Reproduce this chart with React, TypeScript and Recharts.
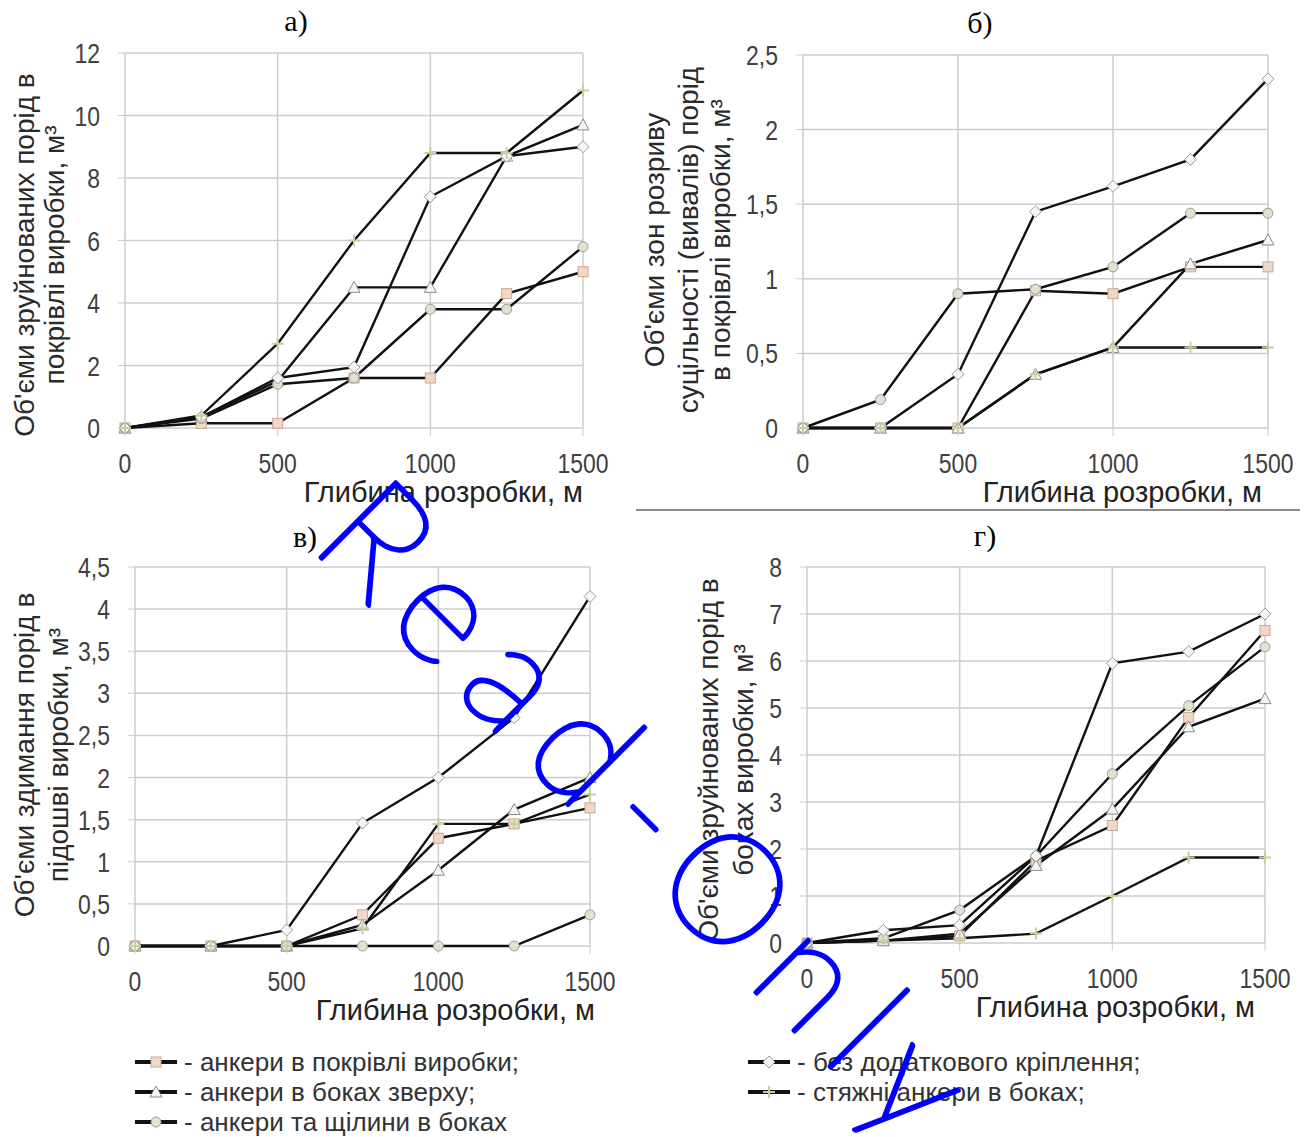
import React from 'react';
import { LineChart, Line, XAxis, YAxis, CartesianGrid } from 'recharts';

// глибина розробки, м
const depth = [0, 250, 500, 750, 1000, 1250, 1500];

// а) об'єми зруйнованих порід в покрівлі
const roofA = [0, 0.15, 0.15, 1.6, 1.6, 4.3, 5.0];
const sideTopA = [0, 0.35, 1.5, 4.5, 4.5, 8.7, 9.7];
const slotsA = [0, 0.3, 1.4, 1.6, 3.8, 3.8, 5.8];
const bareA = [0, 0.35, 1.6, 1.95, 7.4, 8.7, 9.0];
const tieA = [0, 0.4, 2.7, 6.0, 8.8, 8.8, 10.8];

// б) зони розриву суцільності (вивали)
const roofB = [0, 0, 0, 0.92, 0.9, 1.08, 1.08];
const sideTopB = [0, 0, 0, 0.36, 0.54, 1.1, 1.26];
const slotsB = [0, 0.19, 0.9, 0.93, 1.08, 1.44, 1.44];
const bareB = [0, 0, 0.36, 1.45, 1.62, 1.8, 2.34];
const tieB = [0, 0, 0, 0.36, 0.54, 0.54, 0.54];

// в) здимання порід в підошві
const roofC = [0, 0, 0, 0.37, 1.28, 1.45, 1.64];
const sideTopC = [0, 0, 0, 0.25, 0.9, 1.62, 2.0];
const slotsC = [0, 0, 0, 0, 0, 0, 0.37];
const bareC = [0, 0, 0.19, 1.46, 2.0, 2.71, 4.15];
const tieC = [0, 0, 0, 0.21, 1.45, 1.45, 1.8];

// г) зруйновані породи в боках
const roofD = [0, 0.05, 0.15, 1.75, 2.5, 4.8, 6.65];
const sideTopD = [0, 0.05, 0.2, 1.65, 2.85, 4.6, 5.2];
const slotsD = [0, 0.1, 0.7, 1.85, 3.6, 5.05, 6.3];
const bareD = [0, 0.27, 0.38, 1.85, 5.95, 6.2, 7.0];
const tieD = [0, 0.05, 0.1, 0.2, 1.0, 1.82, 1.82];

const xTicks = [0, 500, 1000, 1500];
const yTicksA = [0, 2, 4, 6, 8, 10, 12];
const yTicksB = [0, 0.5, 1, 1.5, 2, 2.5];
const yTicksC = [0, 0.5, 1, 1.5, 2, 2.5, 3, 3.5, 4, 4.5];
const yTicksD = [0, 1, 2, 3, 4, 5, 6, 7, 8];

const xTitle = 'Глибина розробки, м';
const yTitleA = ["Об'єми зруйнованих порід в", 'покрівлі виробки, м³'];
const yTitleB = ["Об'єми зон розриву", 'суцільності (вивалів) порід', 'в покрівлі виробки, м³'];
const yTitleC = ["Об'єми здимання порід в", 'підошві виробки, м³'];
const yTitleD = ["Об'єми зруйнованих порід в", 'боках виробки, м³'];

const legendNames = [
  '- анкери в покрівлі виробки;',
  '- анкери в боках зверху;',
  '- анкери та щілини в боках',
  '- без додаткового кріплення;',
  '- стяжні анкери в боках;',
];

const FONT = '"Liberation Sans", Arial, sans-serif';

const series = [
  { key: 'roof', shape: 'square' },
  { key: 'sideTop', shape: 'triangle' },
  { key: 'slots', shape: 'circle' },
  { key: 'bare', shape: 'diamond' },
  { key: 'tie', shape: 'plus' },
];

const makeRows = (roof, sideTop, slots, bare, tie) =>
  depth.map((d, i) => ({ depth: d, roof: roof[i], sideTop: sideTop[i], slots: slots[i], bare: bare[i], tie: tie[i] }));

const panels = [
  { id: 'a', rows: makeRows(roofA, sideTopA, slotsA, bareA, tieA), yMax: 12, yTicks: yTicksA,
    left: 125, top: 53, right: 583, bottom: 428,
    letter: 'а)', letterX: 296, letterY: 31,
    yTitle: yTitleA, yTitleX: [34, 64], yTitleY: 255, xTitleRight: 583 },
  { id: 'b', rows: makeRows(roofB, sideTopB, slotsB, bareB, tieB), yMax: 2.5, yTicks: yTicksB,
    left: 803, top: 55, right: 1268, bottom: 428,
    letter: 'б)', letterX: 980, letterY: 33,
    yTitle: yTitleB, yTitleX: [664, 698, 730], yTitleY: 240, xTitleRight: 1262 },
  { id: 'c', rows: makeRows(roofC, sideTopC, slotsC, bareC, tieC), yMax: 4.5, yTicks: yTicksC,
    left: 135, top: 567, right: 590, bottom: 946,
    letter: 'в)', letterX: 305, letterY: 547,
    yTitle: yTitleC, yTitleX: [34, 68], yTitleY: 755, xTitleRight: 595 },
  { id: 'd', rows: makeRows(roofD, sideTopD, slotsD, bareD, tieD), yMax: 8, yTicks: yTicksD,
    left: 807, top: 567, right: 1265, bottom: 943,
    letter: 'г)', letterX: 985, letterY: 546,
    yTitle: yTitleD, yTitleX: [718, 753], yTitleY: 760, xTitleRight: 1255 },
];

function Marker({ cx, cy, shape }) {
  if (cx == null || cy == null) return null;
  if (shape === 'square')
    return <rect x={cx - 5} y={cy - 5} width={10} height={10} fill="#f1d8c6" stroke="#c9a892" strokeWidth={1} />;
  if (shape === 'triangle')
    return <polygon points={`${cx},${cy - 6} ${cx + 6},${cy + 5} ${cx - 6},${cy + 5}`} fill="#f4f4f0" stroke="#8c8c8c" strokeWidth={1} />;
  if (shape === 'circle')
    return <circle cx={cx} cy={cy} r={5} fill="#e1e1cf" stroke="#9c9c92" strokeWidth={1} />;
  if (shape === 'diamond')
    return <polygon points={`${cx},${cy - 6} ${cx + 6},${cy} ${cx},${cy + 6} ${cx - 6},${cy}`} fill="#f5f5f5" stroke="#9c9c9c" strokeWidth={1} />;
  return <path d={`M${cx - 6},${cy}H${cx + 6}M${cx},${cy - 6}V${cy + 6}`} stroke="#c8cf9c" strokeWidth={2} />;
}

const fmt = (v: number) => String(v).replace('.', ',');

function YTick(props) {
  const { x, y, payload } = props;
  return (
    <g transform={`translate(${x},${y})`}>
      <text transform="scale(0.82,1)" textAnchor="end" dy={10} fontSize={28} fontFamily={FONT} fill="#404040">
        {fmt(payload.value)}
      </text>
    </g>
  );
}

function XTick(props) {
  const { x, y, payload } = props;
  return (
    <g transform={`translate(${x},${y})`}>
      <text transform="scale(0.82,1)" textAnchor="middle" dy={35} fontSize={28} fontFamily={FONT} fill="#404040">
        {payload.value}
      </text>
    </g>
  );
}

function Panel({ p }) {
  const yw = 60, mt = 24, mr = 40, xh = 60;
  const w = p.right - p.left;
  const h = p.bottom - p.top;
  return (
    <div style={{ position: 'absolute', left: p.left - yw, top: p.top - mt }}>
      <LineChart width={yw + w + mr} height={mt + h + xh} data={p.rows} margin={{ top: mt, right: mr, bottom: 0, left: 0 }}>
        <CartesianGrid stroke="#cdcdcd" strokeWidth={1.5} />
        <XAxis dataKey="depth" type="number" domain={[0, 1500]} ticks={xTicks} interval={0} height={xh}
          axisLine={false} tickLine={{ stroke: '#cdcdcd' }} tickSize={8} tickMargin={2}
          tick={(t) => <XTick x={t.x} y={t.y} payload={t.payload} />} />
        <YAxis type="number" domain={[0, p.yMax]} ticks={p.yTicks} interval={0} width={yw}
          axisLine={false} tickLine={{ stroke: '#cdcdcd' }} tickSize={7} tickMargin={18}
          tick={(t) => <YTick x={t.x} y={t.y} payload={t.payload} />} />
        {series.map((s) => (
          <Line key={s.key} type="linear" dataKey={s.key} stroke="#111" strokeWidth={2.4}
            dot={(d) => <Marker key={`${s.key}-${d.index}`} cx={d.cx} cy={d.cy} shape={s.shape} />}
            activeDot={false} isAnimationActive={false} />
        ))}
      </LineChart>
    </div>
  );
}

function Overlay() {
  const legendLeft = [0, 1, 2];
  const legendRight = [3, 4];
  const rowY = [1062, 1092, 1122];
  return (
    <svg width={1307} height={1137} style={{ position: 'absolute', left: 0, top: 0, pointerEvents: 'none' }}>
      {panels.map((p) => (
        <g key={p.id}>
          <text x={p.letterX} y={p.letterY} textAnchor="middle" fontSize={30}
            fontFamily='"Liberation Serif", "Times New Roman", serif' fill="#000">{p.letter}</text>
          {p.yTitle.map((line, i) => (
            <text key={i} x={p.yTitleX[i]} y={p.yTitleY} transform={`rotate(-90 ${p.yTitleX[i]} ${p.yTitleY})`}
              textAnchor="middle" fontSize={28} fontFamily={FONT} fill="#2a2a2a">{line}</text>
          ))}
          <text x={p.xTitleRight} y={p.bottom + 74} textAnchor="end" fontSize={29} fontFamily={FONT} fill="#222">{xTitle}</text>
        </g>
      ))}
      <line x1={636} y1={510} x2={1300} y2={510} stroke="#666" strokeWidth={1.5} />
      {legendLeft.map((si, r) => (
        <g key={si}>
          <line x1={135} y1={rowY[r]} x2={177} y2={rowY[r]} stroke="#111" strokeWidth={4} />
          <Marker cx={156} cy={rowY[r]} shape={series[si].shape} />
          <text x={184} y={rowY[r] + 9} fontSize={26} fontFamily={FONT} fill="#333">{legendNames[si]}</text>
        </g>
      ))}
      {legendRight.map((si, r) => (
        <g key={si}>
          <line x1={748} y1={rowY[r]} x2={790} y2={rowY[r]} stroke="#111" strokeWidth={4} />
          <Marker cx={769} cy={rowY[r]} shape={series[si].shape} />
          <text x={797} y={rowY[r] + 9} fontSize={26} fontFamily={FONT} fill="#333">{legendNames[si]}</text>
        </g>
      ))}
      <text x={308} y={545} transform="rotate(45 308 545)" fontFamily="Lato, sans-serif" fontWeight={200}
        fontSize={152} fill="#0000ff" stroke="#0000ff" strokeWidth={4} strokeLinejoin="round"
        textLength={850} lengthAdjust="spacing">
        Read-Only
      </text>
    </svg>
  );
}

export default function App() {
  return (
    <div style={{ position: 'absolute', left: 0, top: 0, width: 1307, height: 1137, background: '#fff', overflow: 'hidden' }}>
      {panels.map((p) => (
        <Panel key={p.id} p={p} />
      ))}
      <Overlay />
    </div>
  );
}
